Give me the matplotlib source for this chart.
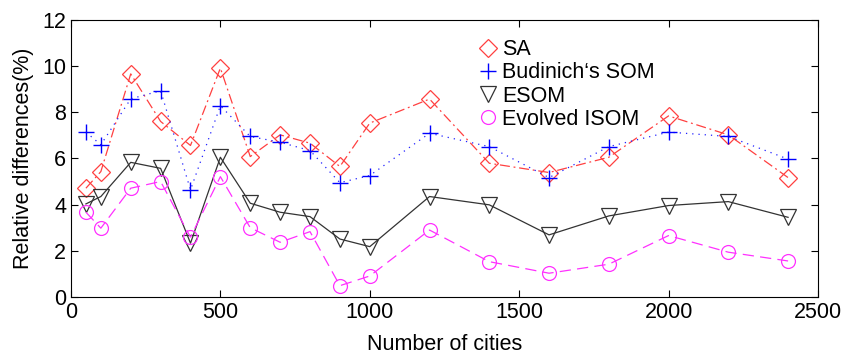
import matplotlib.pyplot as plt
import numpy as np
from matplotlib.lines import Line2D

plt.rcParams['font.family'] = ['Liberation Sans', 'DejaVu Sans']

cities = [50, 100, 200, 300, 400, 500, 600, 700, 800, 900, 1000, 1200, 1400, 1600, 1800, 2000, 2200, 2400]
sa = [4.71, 5.43, 9.66, 7.60, 6.56, 9.91, 6.08, 7.02, 6.66, 5.65, 7.53, 8.57, 5.79, 5.39, 6.05, 7.84, 7.02, 5.17]
budinich = [7.14, 6.59, 8.58, 8.93, 4.64, 8.28, 6.95, 6.70, 6.34, 4.95, 5.26, 7.09, 6.51, 5.17, 6.51, 7.14, 6.95, 5.97]
esom = [4.03, 4.35, 5.83, 5.57, 2.33, 6.05, 4.06, 3.67, 3.48, 2.51, 2.18, 4.35, 3.99, 2.69, 3.51, 3.96, 4.13, 3.45]
isom = [3.67, 2.98, 4.71, 5.00, 2.59, 5.21, 3.00, 2.37, 2.83, 0.49, 0.91, 2.90, 1.53, 1.03, 1.42, 2.66, 1.94, 1.56]
labels = ['SA', 'Budinich\u2018s SOM', 'ESOM', 'Evolved ISOM']

fig = plt.figure(figsize=(8.45, 3.54), dpi=100)
ax = fig.add_axes([0.084, 0.161, 0.884, 0.783])

# marker styles shared by lines and legend
sty_sa = dict(marker='D', ms=9, mfc='none', mec='#ff4040', mew=0.9)
sty_bu = dict(marker='+', ms=11, mec='#0000ff', mew=1.0)
sty_es = dict(marker='v', ms=11, mfc='none', mec='#333333', mew=0.9)
sty_is = dict(marker='o', ms=10, mfc='none', mec='#ff30ff', mew=0.9)

x = np.array(cities)
ax.plot(x, sa, color='#ff4040', lw=0.9, dashes=[8, 3, 1.5, 3], **sty_sa)
ax.plot(x, budinich, color='#2020ff', lw=0.9, dashes=[1, 4], **sty_bu)
ax.plot(x, esom, color='#333333', lw=0.9, ls='-', **sty_es)
ax.plot(x, isom, color='#ff30ff', lw=0.9, dashes=[9, 5], **sty_is)

ax.set_xlim(0, 2500)
ax.set_ylim(0, 12)
ax.set_xticks([0, 500, 1000, 1500, 2000, 2500])
ax.set_yticks([0, 2, 4, 6, 8, 10, 12])
ax.tick_params(direction='in', top=True, right=True, labelsize=15.5, length=5, width=0.8)
for s in ax.spines.values():
    s.set_linewidth(0.8)
ax.set_xlabel('Number of cities', fontsize=15.5, labelpad=8)
ax.set_ylabel('Relative differences(%)', fontsize=15.5, labelpad=6)

# legend shows marker only, no line
handles = [Line2D([], [], ls='none', **s) for s in (sty_sa, sty_bu, sty_es, sty_is)]
ax.legend(handles, labels, loc='upper left', bbox_to_anchor=(0.545, 0.93),
          frameon=False, fontsize=15.5, handlelength=0.9, handletextpad=0.2,
          labelspacing=0.1, borderpad=0, borderaxespad=0)

fig.savefig('out.png', dpi=100)
